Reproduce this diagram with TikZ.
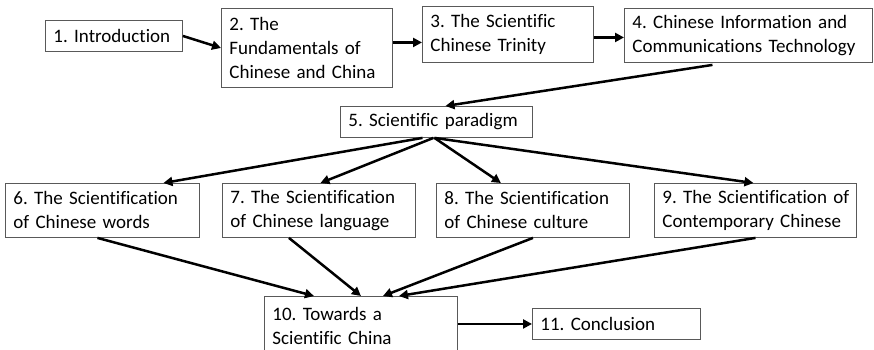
\documentclass[tikz,border=0pt]{standalone}
\usepackage{fontspec}
\setmainfont{Carlito}[Ligatures=NoCommon]
\usetikzlibrary{arrows.meta,calc}
\frenchspacing
\tikzset{
  box/.style={draw=black!65, line width=0.9pt, rectangle, anchor=north west,
    inner xsep=8pt, inner ysep=0pt, align=left,
    font=\fontsize{19}{24}\selectfont},
  arr/.style={line width=2.5pt, -{Triangle[length=9pt,width=9pt]}, shorten >=0pt}
}
\newcommand{\bx}[6]{% name, x1, y1, x2, y2, text
  \pgfmathsetmacro{\bw}{#4-#2}\pgfmathsetmacro{\bh}{#5-#3}\pgfmathsetmacro{\tw}{#4-#2-16}
  \node[box, minimum width=\bw pt, minimum height=\bh pt, text width=\tw pt] (#1) at (#2,#3) {#6};}
\begin{document}
\begin{tikzpicture}[x=1pt,y=-1pt]
\useasboundingbox (0,0) rectangle (874,349);
\clip (0,0) rectangle (874,349);
\bx{n1}{45}{20}{182}{51}{1. Introduction}
\bx{n2}{221}{8}{392}{87}{2. The\\Fundamentals of\\Chinese and China}
\bx{n3}{422}{6}{593}{62}{3. The Scientific\\Chinese Trinity}
\bx{n4}{624}{8}{872}{62}{\mbox{4. Chinese Information and}\\\mbox{Communications Technology}}
\bx{n5}{340}{106}{532}{137}{5. Scientific paradigm}
\bx{n6}{5}{183}{199}{237}{6. The Scientification\\of Chinese words}
\bx{n7}{222}{183}{415}{237}{7. The Scientification\\of Chinese language}
\bx{n8}{436}{183}{629}{237}{8. The Scientification\\of Chinese culture}
\bx{n9}{654}{183}{856}{237}{\mbox{9. The Scientification of}\\\mbox{Contemporary Chinese}}
\bx{n10}{264}{296}{457}{356}{10. Towards a\\Scientific China}
\bx{n11}{532}{308}{700}{339}{11. Conclusion}
% connectors
\draw[arr] (n1.east) -- (n2.west);
\path (n2.east) ++(0,-5.5) coordinate (s23);
\draw[arr] (s23) -- (s23 -| n3.west);
\path (n3.east) ++(0,3) coordinate (s34);
\draw[arr] (s34) -- (s34 -| n4.west);
\draw[arr] ($(n4.south)+(-36,2)$) -- ($(n5.north)+(9,0)$);
\draw[arr] ($(n5.south)+(-14,0)$) -- ($(n6.north)+(61,0)$);
\draw[arr] ($(n5.south)+(-3,0)$) -- ($(n7.north)+(1.5,0)$);
\draw[arr] ($(n5.south)+(-2,0)$) -- ($(n8.north)+(-32,0)$);
\draw[arr] ($(n5.south)+(-2,0)$) -- ($(n9.north)+(-2,0)$);
\draw[arr] ($(n6.south)+(-5,0)$) -- ($(n10.north)+(-47,0)$);
\draw[arr] ($(n7.south)+(-30,0)$) -- ($(n10.north)+(0,0)$);
\draw[arr] ($(n8.south)+(0,0)$) -- ($(n10.north)+(22,0)$);
\draw[arr] ($(n9.south)+(0,0)$) -- ($(n10.north)+(38,0)$);
\draw[arr] (n11.west -| n10.east) -- (n11.west);
\end{tikzpicture}
\end{document}
